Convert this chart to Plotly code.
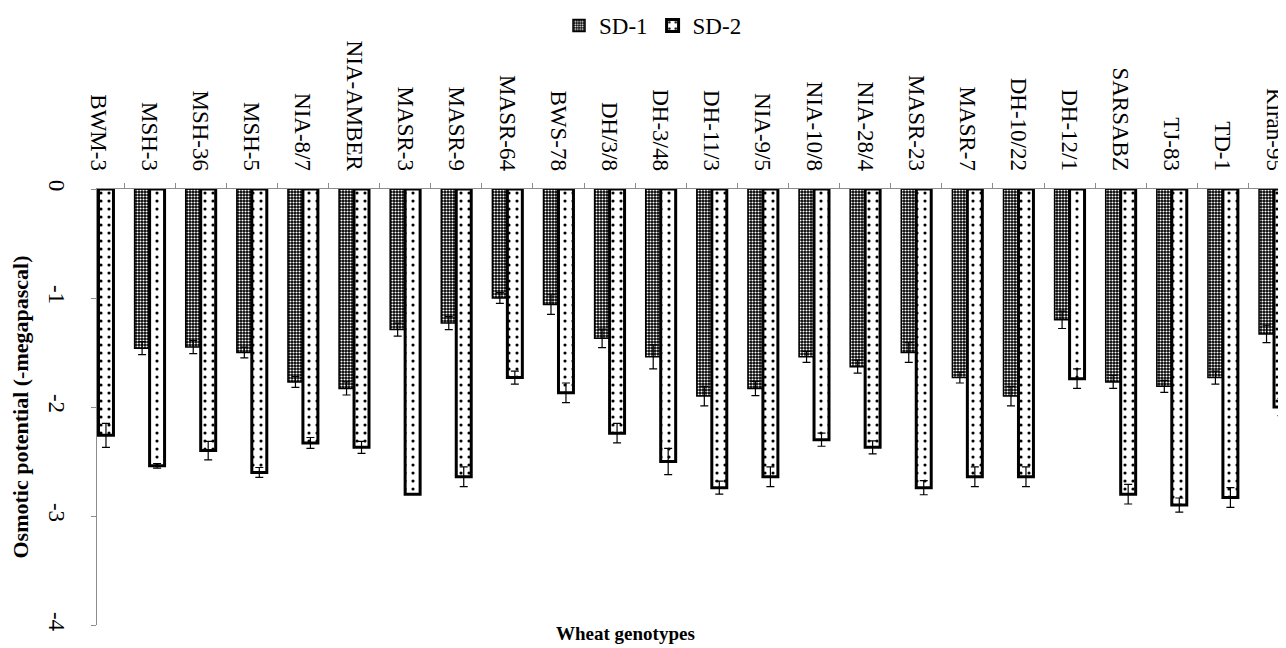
import plotly.graph_objects as go

genotypes = ["BWM-3", "MSH-3", "MSH-36", "MSH-5", "NIA-8/7", "NIA-AMBER", "MASR-3",
             "MASR-9", "MASR-64", "BWS-78", "DH/3/8", "DH-3/48", "DH-11/3", "NIA-9/5",
             "NIA-10/8", "NIA-28/4", "MASR-23", "MASR-7", "DH-10/22", "DH-12/1",
             "SARSABZ", "TJ-83", "TD-1", "Kiran-95"]

sd1 = [None, -1.46, -1.45, -1.50, -1.77, -1.83, -1.29, -1.23, -1.00, -1.06, -1.37, -1.54,
       -1.90, -1.83, -1.54, -1.63, -1.50, -1.73, -1.90, -1.20, -1.77, -1.81, -1.73, -1.33]
sd1_err = [0, 0.06, 0.06, 0.05, 0.05, 0.06, 0.06, 0.06, 0.05, 0.09, 0.085, 0.11,
           0.09, 0.065, 0.05, 0.06, 0.09, 0.05, 0.09, 0.08, 0.06, 0.055, 0.06, 0.08]
sd2 = [-2.26, -2.54, -2.40, -2.60, -2.33, -2.37, -2.80, -2.64, -1.73, -1.87, -2.24, -2.50,
       -2.74, -2.64, -2.30, -2.37, -2.74, -2.64, -2.64, -1.74, -2.80, -2.90, -2.83, -2.00]
sd2_err = [0.11, 0.02, 0.085, 0.045, 0.05, 0.055, 0, 0.09, 0.06, 0.09, 0.09, 0.12,
           0.06, 0.09, 0.06, 0.06, 0.065, 0.09, 0.09, 0.09, 0.09, 0.065, 0.09, 0.08]

y_ticks = [0, -1, -2, -3, -4]
y_labels = ["0", "-1", "-2", "-3", "-4"]

FONT = "Liberation Serif"

fig = go.Figure()
fig.add_trace(go.Bar(
    name="SD-1", x=genotypes, y=sd1,
    marker=dict(color="black", line=dict(color="black", width=1.5),
                pattern=dict(shape=".", bgcolor="black", fgcolor="white",
                             size=3, solidity=0.4, fillmode="replace")),
    error_y=dict(type="data", array=sd1_err, visible=True, color="black",
                 thickness=1.2, width=4),
))
fig.add_trace(go.Bar(
    name="SD-2", x=genotypes, y=sd2,
    marker=dict(color="white", line=dict(color="black", width=3),
                pattern=dict(shape=".", bgcolor="white", fgcolor="black",
                             size=8, solidity=0.12, fillmode="replace")),
    error_y=dict(type="data", array=sd2_err, visible=True, color="black",
                 thickness=1.2, width=4),
))

fig.update_layout(
    width=1278, height=640,
    margin=dict(l=89, r=6, t=181, b=23, autoexpand=False),
    paper_bgcolor="white", plot_bgcolor="white",
    barmode="group", bargap=0.414, bargroupgap=0,
    font=dict(family=FONT, size=22, color="black"),
    showlegend=True,
    legend=dict(orientation="h", x=0.47, y=1.375, xanchor="center", yanchor="middle",
                font=dict(family=FONT, size=23), itemwidth=30, bgcolor="rgba(0,0,0,0)"),
    xaxis=dict(side="top", type="category", range=[-0.029, 23.117], automargin=False,
               tickangle=90, tickfont=dict(family=FONT, size=23), ticklabelstandoff=9,
               showline=True, linecolor="#8c8c8c", linewidth=1,
               ticks="outside", tickson="boundaries", ticklen=5, tickcolor="#8c8c8c",
               showgrid=False, zeroline=False),
    yaxis=dict(range=[-4, 0], tickvals=y_ticks, ticktext=y_labels, tickangle=90,
               automargin=False,
               tickfont=dict(family=FONT, size=23), ticklabelstandoff=14,
               showline=True, linecolor="#8c8c8c", linewidth=1,
               ticks="outside", ticklen=5, tickcolor="#8c8c8c",
               showgrid=False, zeroline=False,
               title=dict(text="<b>Osmotic potential (-megapascal)</b>",
                          font=dict(family=FONT, size=22), standoff=20)),
    annotations=[dict(text="<b>Wheat genotypes</b>", xref="paper", yref="paper",
                      x=0.447, y=-0.019, xanchor="center", yanchor="middle",
                      showarrow=False, font=dict(family=FONT, size=19))],
)

fig.write_html("out.html")
